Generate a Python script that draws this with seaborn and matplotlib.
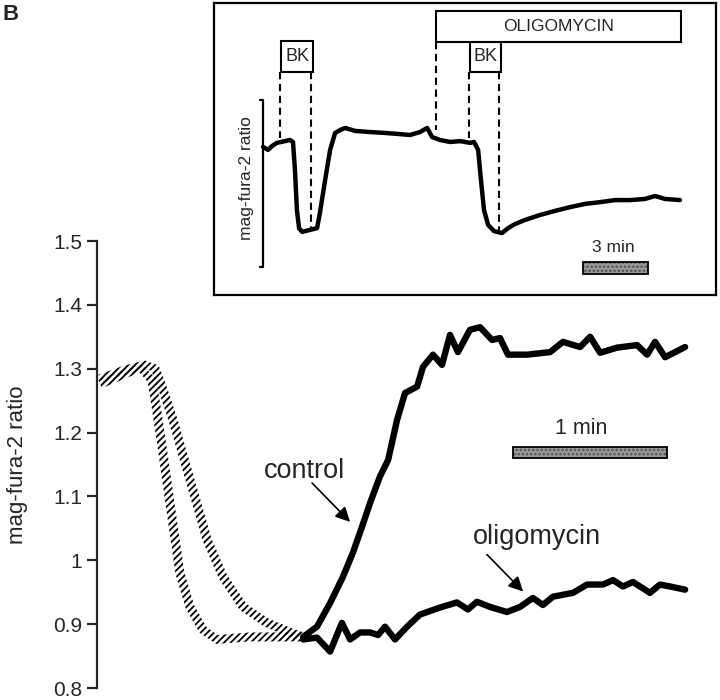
import numpy as np
import matplotlib
matplotlib.use("Agg")
import matplotlib.pyplot as plt
from matplotlib.patches import Rectangle
import seaborn as sns

# --- main panel: time (s) and mag-fura-2 ratio ---
# hatched (pre-start) traces
pre_a_t = [1.2, 9.0, 16.8, 21.4, 23.4, 25.7, 28.4, 32.3, 36.2, 41.3, 46.7, 59.6, 72.5, 80.3]
pre_a_v = [1.276, 1.289, 1.301, 1.282, 1.231, 1.168, 1.090, 0.980, 0.927, 0.891, 0.876, 0.880, 0.880, 0.880]
pre_b_t = [1.2, 10.9, 18.7, 22.6, 25.3, 29.6, 35.1, 42.9, 49.1, 56.9, 66.2, 75.2, 80.3]
pre_b_v = [1.284, 1.298, 1.306, 1.301, 1.272, 1.220, 1.142, 1.032, 0.974, 0.927, 0.902, 0.887, 0.880]

control_t = [80.3, 85.7, 90.8, 95.8, 99.7, 103.2, 106.4, 110.2, 113.4, 116.9, 120.0, 124.7,
             127.0, 130.9, 134.4, 137.5, 140.6, 145.3, 149.2, 153.9, 157.0, 160.1, 167.5,
             176.5, 181.5, 188.2, 192.1, 196.0, 202.6, 210.4, 214.3, 217.4, 221.3, 229.1]
control_v = [0.880, 0.896, 0.933, 0.974, 1.012, 1.052, 1.090, 1.131, 1.157, 1.220, 1.262, 1.272,
             1.303, 1.322, 1.306, 1.353, 1.326, 1.361, 1.365, 1.345, 1.348, 1.322, 1.322,
             1.326, 1.342, 1.334, 1.350, 1.325, 1.333, 1.337, 1.322, 1.342, 1.318, 1.334]

oligo_t = [80.3, 85.7, 90.8, 95.4, 98.6, 102.5, 106.4, 109.5, 112.2, 116.1, 120.8, 125.8,
           133.6, 140.2, 144.5, 148.0, 153.1, 159.7, 164.8, 169.8, 173.7, 177.6, 185.4,
           190.9, 197.1, 201.0, 204.9, 208.8, 215.4, 219.3, 223.2, 229.1]
oligo_v = [0.876, 0.879, 0.857, 0.902, 0.876, 0.887, 0.887, 0.883, 0.896, 0.876, 0.896, 0.915,
           0.926, 0.934, 0.923, 0.935, 0.927, 0.919, 0.927, 0.941, 0.930, 0.943, 0.949,
           0.962, 0.962, 0.969, 0.959, 0.966, 0.949, 0.962, 0.959, 0.954]

y_ticks = [0.8, 0.9, 1.0, 1.1, 1.2, 1.3, 1.4, 1.5]
y_ticklabels = ["0.8", "0.9", "1", "1.1", "1.2", "1.3", "1.4", "1.5"]

# --- inset: time (min) and ratio (arbitrary units) ---
inset_t = [2.26, 2.49, 2.67, 2.90, 3.27, 3.50, 3.64, 3.73, 3.82, 3.92, 4.06, 4.42, 4.75,
           4.88, 5.12, 5.35, 5.58, 5.81, 6.04, 6.50, 7.19, 7.88, 8.57, 9.03, 9.49, 9.82,
           10.05, 10.41, 10.88, 11.34, 11.80, 11.98, 12.17, 12.30, 12.44, 12.63, 12.90,
           13.27, 13.55, 13.87, 14.33, 15.02, 15.71, 16.41, 17.10, 17.79, 18.48, 19.17,
           19.86, 20.32, 20.78, 21.47]
inset_v = [0.507, 0.497, 0.510, 0.521, 0.527, 0.531, 0.524, 0.428, 0.291, 0.229, 0.216, 0.223, 0.229,
           0.281, 0.394, 0.497, 0.555, 0.565, 0.572, 0.562, 0.558, 0.555, 0.551, 0.548, 0.558, 0.572,
           0.541, 0.531, 0.524, 0.527, 0.521, 0.524, 0.497, 0.394, 0.291, 0.240, 0.219,
           0.212, 0.229, 0.243, 0.257, 0.274, 0.288, 0.301, 0.312, 0.318, 0.325, 0.325,
           0.329, 0.339, 0.329, 0.325]
bk_starts = [3.09, 11.80]
bk_ends = [4.56, 13.23]
oligo_start, oligo_end = 10.23, 21.52

sns.set_style("white")
plt.rcParams["font.family"] = ["Liberation Sans", "DejaVu Sans"]
plt.rcParams["hatch.linewidth"] = 1.3


def stroke_polygon(ax, x, y, width_px):
    # outline of a thick stroke around a polyline, built in display space
    pts = ax.transData.transform(np.column_stack([x, y]))
    d = np.gradient(pts, axis=0)
    n = np.column_stack([-d[:, 1], d[:, 0]])
    n /= np.linalg.norm(n, axis=1)[:, None]
    poly = np.vstack([pts + n * width_px / 2, (pts - n * width_px / 2)[::-1]])
    return ax.transData.inverted().transform(poly)


fig = plt.figure(figsize=(7.2, 7.0), dpi=100)

# main axes
ax = fig.add_axes([97 / 720, 12 / 700, 603 / 720, 447 / 700])
ax.set_xlim(0, 234.9)
ax.set_ylim(0.8, 1.5)
for s in ["top", "right", "bottom"]:
    ax.spines[s].set_visible(False)
ax.spines["left"].set_linewidth(1.6)
ax.set_xticks([])
ax.set_yticks(y_ticks)
ax.set_yticklabels(y_ticklabels)
ax.tick_params(axis="y", direction="out", length=7.5, width=1.6, pad=3, labelsize=15, left=True)
ax.set_ylabel("mag-fura-2 ratio", fontsize=16)
ax.yaxis.set_label_coords(-0.114, 0.5)
ax.set_facecolor("none")

for tt, vv in [(pre_a_t, pre_a_v), (pre_b_t, pre_b_v)]:
    poly = stroke_polygon(ax, tt, vv, 9)
    ax.fill(poly[:, 0], poly[:, 1], facecolor="none", edgecolor="black",
            hatch="/////", linewidth=0)

sns.lineplot(x=control_t, y=control_v, ax=ax, color="black", lw=4.6,
             sort=False, estimator=None)
sns.lineplot(x=oligo_t, y=oligo_v, ax=ax, color="black", lw=4.6,
             sort=False, estimator=None)

arrow = dict(arrowstyle="-|>", color="black", lw=1.2, mutation_scale=22,
             shrinkA=0, shrinkB=0)
ax.text(81.0, 1.140, "control", fontsize=19.5, ha="center", va="center")
ax.annotate("", xy=(98.6, 1.060), xytext=(83.8, 1.121), arrowprops=arrow)
ax.text(171.4, 1.037, "oligomycin", fontsize=19.5, ha="center", va="center")
ax.annotate("", xy=(166.0, 0.951), xytext=(151.9, 1.009), arrowprops=arrow)

# 1 min scale bar
ax.add_patch(Rectangle((162.1, 1.160), 60, 0.018, facecolor="#9a9a9a",
                       edgecolor="#555555", hatch="....", linewidth=0))
ax.add_patch(Rectangle((162.1, 1.160), 60, 0.018, facecolor="none",
                       edgecolor="black", linewidth=1.3))
ax.text(188.5, 1.207, "1 min", fontsize=15.5, ha="center", va="center")

# inset
axi = fig.add_axes([214 / 720, 405 / 700, 502 / 720, 292 / 700])
axi.set_xlim(0, 23.13)
axi.set_ylim(0, 1)
axi.set_xticks([])
axi.set_yticks([])
for s in axi.spines.values():
    s.set_linewidth(1.6)
    s.set_color("black")
axi.set_facecolor("white")

sns.lineplot(x=inset_t, y=inset_v, ax=axi, color="black", lw=3.2,
             sort=False, estimator=None)

dash = dict(color="black", lw=1.5, linestyle=(0, (3.5, 2.2)))
for b0, b1, y_low in zip(bk_starts, bk_ends, [0.538, 0.538]):
    axi.add_patch(Rectangle((b0, 0.764), b1 - b0, 0.106, facecolor="white",
                            edgecolor="black", linewidth=1.5))
    axi.text((b0 + b1) / 2, 0.817, "BK", fontsize=13, ha="center", va="center")
    axi.plot([b0 - 0.03, b0 - 0.03], [0.764, y_low], **dash)
    axi.plot([b1 - 0.09, b1 - 0.09], [0.764, 0.223], **dash)

axi.add_patch(Rectangle((oligo_start, 0.866), oligo_end - oligo_start, 0.107,
                        facecolor="white", edgecolor="black", linewidth=1.5))
axi.text((oligo_start + oligo_end) / 2, 0.92, "OLIGOMYCIN", fontsize=12.5,
         ha="center", va="center")
axi.plot([oligo_start, oligo_start], [0.866, 0.565], **dash)

# inset vertical scale bracket
axi.plot([2.12, 2.26, 2.26, 2.12], [0.668, 0.668, 0.096, 0.096], color="black", lw=1.6)
axi.text(1.52, 0.40, "mag-fura-2 ratio", fontsize=12.5, rotation=90, ha="center", va="center")

# 3 min scale bar
axi.add_patch(Rectangle((17.0, 0.072), 3.0, 0.041, facecolor="#9a9a9a",
                        edgecolor="#555555", hatch="....", linewidth=0))
axi.add_patch(Rectangle((17.0, 0.072), 3.0, 0.041, facecolor="none",
                        edgecolor="black", linewidth=1.3))
axi.text(18.39, 0.164, "3 min", fontsize=12.5, ha="center", va="center")

fig.text(2 / 720, 1 - 4 / 700, "B", fontsize=16, fontweight="bold", ha="left", va="top")

fig.savefig("out.png", dpi=100)
